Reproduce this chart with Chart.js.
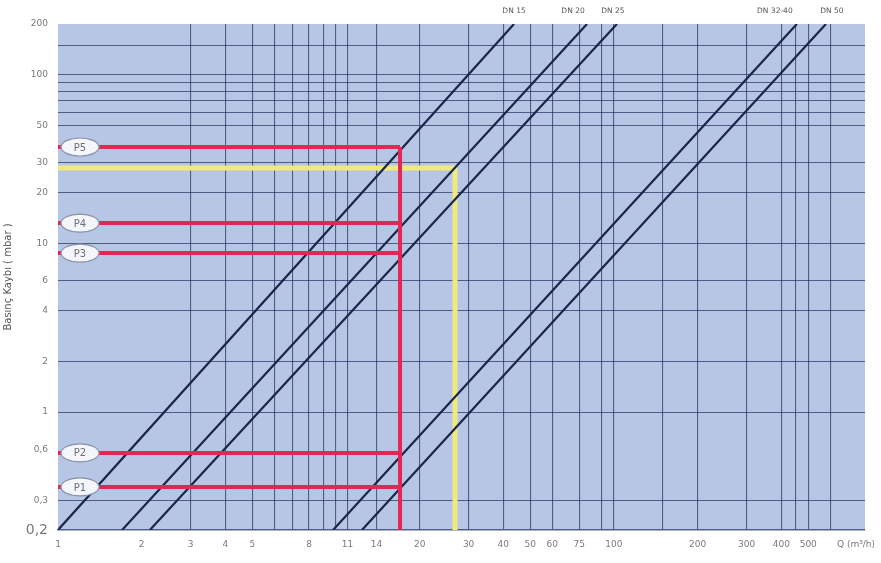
<!DOCTYPE html>
<html>
<head>
<meta charset="utf-8">
<script src="https://cdn.jsdelivr.net/npm/chart.js@4/dist/chart.umd.min.js"></script>
<style>
  body { margin: 0; background: #fff; }
  #wrap { width: 881px; height: 563px; }
</style>
</head>
<body>
<div id="wrap"><canvas id="chart" width="881" height="563"></canvas></div>
<script>
// pipe size lines (Q in m3/h, pressure loss in mbar)
const dnNames = ['DN 15', 'DN 20', 'DN 25', 'DN 32-40', 'DN 50'];
const dnStartQ = [1, 1.70, 2.14, 9.76, 12.4];
const dnEndQ = [43.7, 80.0, 102.5, 455, 579];
const dnPressure = [0.2, 200];

// red reading lines P1..P5
const pointNames = ['P1', 'P2', 'P3', 'P4', 'P5'];
const pointPressure = [0.36, 0.573, 8.77, 13.2, 37.3];
const redFlowQ = 17.0;

// yellow reading line
const yellowFlowQ = 26.8;
const yellowPressure = 28.0;

// axes
const xTickLabels = [1, 2, 3, 4, 5, 8, 11, 14, 20, 30, 40, 50, 60, 75, 100, 200, 300, 400, 500];
const xGridValues = [3, 4, 5, 6, 7, 8, 9, 10, 11, 14, 20, 30, 40, 50, 60, 75, 90, 100, 150, 200, 300, 400, 450, 500, 600];
const yTickLabels = [0.2, 0.3, 0.6, 1, 2, 4, 6, 10, 20, 30, 50, 100, 200];
const yGridValues = [0.3, 1, 2, 4, 6, 10, 20, 30, 50, 60, 70, 80, 90, 100, 150];

const gridColor = 'rgba(35, 45, 95, 0.7)';
const lineColor = '#1c2548';
const redColor = 'rgb(228, 38, 82)';
const yellowColor = 'rgb(240, 234, 125)';

const merge = (a, b) => Array.from(new Set(a.concat(b))).sort((p, q) => p - q);
const fmt = v => String(v).replace('.', ',');

const datasets = [];

// red verticals + horizontals
datasets.push({
  data: [{ x: redFlowQ, y: dnPressure[0] }, { x: redFlowQ, y: pointPressure[pointPressure.length - 1] }],
  borderColor: redColor, borderWidth: 4
});
pointPressure.forEach(p => {
  datasets.push({
    data: [{ x: 1, y: p }, { x: redFlowQ, y: p }],
    borderColor: redColor, borderWidth: 4
  });
});

// pipe lines
dnNames.forEach((name, i) => {
  datasets.push({
    label: name,
    data: [{ x: dnStartQ[i], y: dnPressure[0] }, { x: dnEndQ[i], y: dnPressure[1] }],
    borderColor: lineColor, borderWidth: 2.2
  });
});

// yellow
datasets.push({
  data: [{ x: 1, y: yellowPressure }, { x: yellowFlowQ, y: yellowPressure }, { x: yellowFlowQ, y: dnPressure[0] }],
  borderColor: yellowColor, borderWidth: 5
});

// small nudges so the DN captions do not collide
const dnLabelShift = [0, -14, -4, -22, 6];

const decor = {
  id: 'decor',
  beforeDraw(chart) {
    const { ctx, chartArea: a } = chart;
    ctx.save();
    ctx.fillStyle = 'rgb(184, 198, 229)';
    ctx.fillRect(a.left, a.top, a.right - a.left, a.bottom - a.top);
    ctx.restore();
  },
  afterDraw(chart) {
    const { ctx } = chart;
    const xs = chart.scales.x, ys = chart.scales.y;
    ctx.save();
    // P labels
    pointNames.forEach((n, i) => {
      const y = ys.getPixelForValue(pointPressure[i]);
      ctx.beginPath();
      ctx.ellipse(80, y, 19, 9, 0, 0, Math.PI * 2);
      ctx.fillStyle = '#f4f6fa';
      ctx.fill();
      ctx.strokeStyle = '#8a93a8';
      ctx.lineWidth = 1.2;
      ctx.stroke();
      ctx.fillStyle = '#6a6f7a';
      ctx.font = '10px "DejaVu Sans"';
      ctx.textAlign = 'center';
      ctx.textBaseline = 'middle';
      ctx.fillText(n, 80, y + 1);
    });
    // DN labels at top of lines
    ctx.font = '7.5px "DejaVu Sans"';
    ctx.fillStyle = '#555';
    ctx.textAlign = 'center';
    ctx.textBaseline = 'middle';
    dnNames.forEach((n, i) => {
      ctx.fillText(n, xs.getPixelForValue(dnEndQ[i]) + dnLabelShift[i], 11);
    });
    // x axis unit
    ctx.font = '9px "DejaVu Sans"';
    ctx.fillStyle = '#777';
    ctx.textAlign = 'left';
    ctx.fillText('Q (m³/h)', chart.chartArea.right - 28, chart.chartArea.bottom + 15);
    ctx.restore();
  }
};

new Chart(document.getElementById('chart').getContext('2d'), {
  type: 'line',
  data: { datasets: datasets },
  options: {
    responsive: false,
    animation: false,
    parsing: true,
    elements: { point: { radius: 0 }, line: { tension: 0, fill: false } },
    layout: { padding: { top: 24, right: 16, left: 0, bottom: 0 } },
    plugins: { legend: { display: false }, tooltip: { enabled: false } },
    scales: {
      x: {
        type: 'logarithmic',
        min: 1,
        max: 800,
        afterFit: s => { s.height = 33; },
        afterBuildTicks: s => { s.ticks = merge(xTickLabels, xGridValues).map(v => ({ value: v })); },
        border: { display: true, color: gridColor, width: 1.5 },
        grid: {
          drawTicks: false,
          lineWidth: 1.1,
          color: c => (c.tick && xGridValues.includes(c.tick.value)) ? gridColor : 'transparent'
        },
        ticks: {
          autoSkip: false,
          maxRotation: 0,
          padding: 9,
          color: '#7a7a7a',
          font: { size: 9, family: 'DejaVu Sans' },
          callback: v => xTickLabels.includes(v) ? fmt(v) : ''
        }
      },
      y: {
        type: 'logarithmic',
        min: 0.2,
        max: 200,
        afterFit: s => { s.width = 58; },
        afterBuildTicks: s => { s.ticks = merge(yTickLabels, yGridValues).map(v => ({ value: v })); },
        border: { display: false },
        grid: {
          drawTicks: false,
          lineWidth: 1.1,
          color: c => (c.tick && yGridValues.includes(c.tick.value)) ? gridColor : 'transparent'
        },
        title: {
          display: true,
          text: 'Basınç Kaybı ( mbar )',
          color: '#555',
          font: { size: 10, family: 'DejaVu Sans' },
          padding: { top: 2, bottom: 4 }
        },
        ticks: {
          autoSkip: false,
          padding: 10,
          color: '#7a7a7a',
          font: c => (c.tick && c.tick.value === 0.2) ? { size: 14, family: 'DejaVu Sans' } : { size: 9, family: 'DejaVu Sans' },
          callback: v => yTickLabels.includes(v) ? fmt(v) : ''
        }
      }
    }
  },
  plugins: [decor]
});
</script>
</body>
</html>
